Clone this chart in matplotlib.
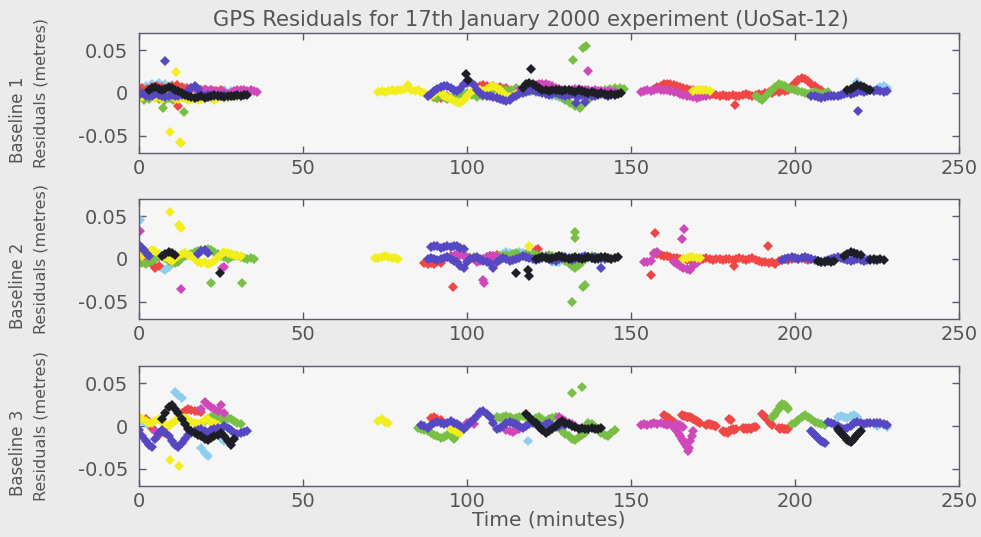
import matplotlib
matplotlib.use("Agg")
import matplotlib.pyplot as plt
import numpy as np

# ---------------- DATA (time in minutes, residuals in millimetres) ----------------
TITLE = "GPS Residuals for 17th January 2000 experiment (UoSat-12)"
PANEL_NAMES = ["Baseline 1", "Baseline 2", "Baseline 3"]
Y_LABEL = "Residuals (metres)"
X_LABEL = "Time (minutes)"
X_TICKS = [0, 50, 100, 150, 200, 250]
Y_TICKS = [-0.05, 0, 0.05]
Y_TICK_LABELS = ["-0.05", "0", "0.05"]

# ---- Baseline 1 ----
B1_YELLOW_T = [0, 1, 2, 3, 4, 5, 6, 7, 8, 9, 10, 11, 12, 13, 14, 15, 16, 17, 18, 19, 20, 21, 22, 23, 24, 25, 26, 27,
               9.5, 11.3, 12.5, 12.9,
               73, 74, 75, 76, 77, 78, 79, 80, 81, 82, 83, 84,
               85, 86, 87, 88, 89, 90, 91, 92, 93, 94, 95, 96, 97, 98, 99, 100, 101, 102, 103, 104, 105, 106,
               107, 108, 109, 110, 111, 112, 113, 114, 115,
               169, 170, 171, 172, 173, 174]
B1_YELLOW_R = [-3, -5, -4, -2, -4, -6, -5, -7, -5, -3, -4, -6, -7, -5, -6, -8, -7, -6, -8, -7, -5, -4, -6, -8, -6, -4, -5, -4,
               -46, 25, -57, -58,
               1, 2, 1, 2, 3, 2, 3, 4, 5, 9, 3, 2,
               3, 1, 0, -2, -3, -1, 2, 0, -3, -5, -7, -9, -11, -12, -8, -4, 0, 3, 5, 4, 2, 5,
               7, 8, 6, 3, 0, -3, -5, -3, -1,
               2, 3, 4, 4, 3, 2]
B1_GREEN_T = [0, 1.5, 3, 4.5, 6, 7.5, 9, 10.5, 12, 13.5, 15, 16.5, 18, 19.5, 21, 22.5, 24, 25.5, 27, 28.5, 30, 31.5,
              7.3, 13.6,
              88, 89.5, 91, 92.5, 94, 95.5, 97, 98.5, 100, 101.5, 103, 104.5, 106, 107.5, 109, 110.5, 112, 113.5,
              115, 116.5, 118, 119.5, 121, 122.5, 124, 125.5, 127, 128.5, 130, 131.5, 133, 134.5, 136, 137.5,
              139, 140.5, 142, 143.5, 145, 146.5, 148,
              132.4, 135.5, 136.2,
              188, 189, 190, 191, 192, 193, 194, 195, 196, 197, 198, 199, 200, 201, 202, 203, 204, 205, 206,
              207, 208, 209, 210]
B1_GREEN_R = [-6, -8, -7, -5, -7, -9, -6, -8, -7, -5, -4, -6, -7, -5, -3, -4, -2, -3, -5, -4, -3, -2,
              -17, -22,
              -3, -5, -6, -4, -7, -6, -3, -1, 0, -2, -5, -3, 1, 3, 4, 5, 3, 4,
              6, 5, 3, 2, 1, 3, 2, 0, -2, -4, -8, -12, -15, -17, -12, -6,
              -2, 2, 4, 5, 6, 6, 5,
              39, 52, 55,
              -3, -6, -8, -5, 0, 4, 7, 10, 9, 8, 6, 5, 3, 2, 1, 0, -1, 0, 1,
              0, -1, 0, 1]
B1_RED_T = [1, 2.5, 4, 5.5, 7, 8.5, 10, 11.5, 13, 14.5, 16, 17.5, 19, 20.5, 22, 23.5, 25, 12,
            90, 91, 92, 93, 94, 103, 104, 105, 106, 107, 108, 109, 110, 111, 112, 120, 121, 122, 123, 124,
            157, 158, 159, 160, 161, 162, 163, 164, 165, 166,
            167, 168, 169, 170, 171, 172, 173, 174, 175, 176,
            177, 178, 179, 180, 181, 182, 183, 184, 185, 186,
            187, 188, 189, 190, 191, 192, 193, 194, 195, 196,
            197, 198, 199, 200, 201, 202, 203, 204, 205, 206, 207, 208, 181.7]
B1_RED_R = [6, 5, 7, 8, 7, 6, 8, 9, 7, 6, 5, 6, 4, 3, 4, 2, 3, -15,
            -5, -6, -6, -5, -4, 6, 8, 9, 8, 7, 8, 6, 7, 5, 6, 4, 5, 3, 2, 3,
            5, 7, 8, 10, 11, 10, 9, 8, 7, 6,
            5, 4, 3, 2, 1, 0, -1, -2, -1, -2,
            -3, -2, -4, -3, -2, -3, -4, -2, -1, -2,
            -3, -2, -1, -2, 0, 1, 0, 2, 1, 3,
            2, 4, 8, 12, 15, 17, 16, 14, 11, 8, 5, 3, -14]
B1_CYAN_T = [0, 2, 4, 6, 8, 10, 12, 14, 16, 18, 20, 22, 24, 26, 28, 30,
             105, 106, 110, 111, 126, 127, 128, 129, 130, 131,
             219, 225, 226, 227, 228]
B1_CYAN_R = [6, 8, 10, 12, 11, 9, 7, 6, 5, 4, 5, 3, 2, 4, 2, 1,
             -2, -1, 3, 2, -3, -4, -5, -6, -4, -3,
             13, 5, 7, 8, 6]
B1_MAGENTA_T = [16, 17, 18, 19, 20, 21, 22, 23, 24, 25, 26, 27, 28, 29, 30, 31, 32, 33, 34, 35, 36,
                116, 117, 118, 119, 120, 121, 122, 123, 124, 125, 126, 127, 128, 129, 130, 131, 132, 133, 134,
                135, 136, 137, 138, 139, 140, 141, 142, 143, 144, 145, 136.8,
                153, 154, 155, 156, 157, 158, 159, 160, 161, 162, 163, 164,
                165, 166, 167, 168, 169, 170, 171, 172, 173]
B1_MAGENTA_R = [6, 5, 4, 4, 3, 2, 3, 2, 1, 0, 1, -1, 0, 2, 3, 4, 3, 2, 3, 2, 1,
                3, 4, 5, 6, 8, 9, 10, 11, 10, 9, 8, 6, 5, 4, 4, 3, 4, 5, 5,
                4, 3, 3, 2, 3, 2, 2, 1, 2, 1, 1, 26,
                1, 2, 3, 2, 4, 5, 4, 3, 3, 2, 1, 1,
                -1, -2, -3, -4, -5, -6, -5, -4, -3]
B1_BLUE_T = [0, 1, 2, 3, 4, 5, 6, 7, 8, 9, 10, 11, 12, 13, 14, 15, 16, 17, 18, 19, 20, 21, 22, 23, 24, 25, 26, 8,
             88, 89, 90, 91, 92, 93, 94, 95, 96, 97, 98, 99, 100, 101, 102, 103, 104, 105, 106, 107,
             108, 109, 110, 111, 112, 113, 114, 115, 116, 117, 118, 119, 120, 121, 122, 123, 124, 125, 126, 127,
             128, 129, 130, 131, 132, 133, 134, 135, 136, 137, 138, 139, 140, 141, 142, 143, 144, 145,
             133.3, 136,
             205, 206, 207, 208, 209, 210, 211, 212, 213, 214, 215, 216, 217, 218, 219, 220, 221, 222, 223,
             224, 225, 226, 227, 228, 219.2]
B1_BLUE_R = [-2, 0, -3, -4, -3, -1, -2, -4, -5, -3, -2, -4, -3, -2, -1, 2, 6, 8, 5, -1, -3, -2, -3, -4, -2, -3, -2, 37,
             -3, -1, 2, 5, 7, 8, 8, 6, 4, 2, 5, 10, 12, 13, 9, 4, 0, -2, -3, -4,
             -5, -6, -7, -8, -9, -8, -5, -3, -1, 0, 1, 2, 3, 2, 1, 0, -1, -2, -1, 0,
             -1, -2, -3, -2, -1, -2, -3, -2, -1, -2, -3, -3, -2, -1, -2, -3, -2, -1,
             -12, -11,
             -3, -4, -5, -6, -5, -4, -3, -4, -3, -2, -1, 0, -1, 0, 1, 2, 1, 2, 3,
             2, 3, 2, 1, 2, -21]
B1_BLACK_T = [3, 4, 5, 6, 7, 8, 9, 10, 11, 12, 13, 14, 15, 16, 17, 18, 19, 20, 21, 22, 23, 24, 25, 26, 27, 28,
              29, 30, 31, 32, 33,
              99.7, 100.3, 119.6,
              117, 118, 119, 120, 121, 122, 123, 124, 125, 126, 127, 128, 129, 130, 131, 132, 133, 134, 135,
              136, 137, 138, 139, 140, 141, 142, 143, 144, 145, 146, 147,
              216, 217, 218, 219, 220, 221, 222, 223]
B1_BLACK_R = [4, 6, 7, 5, 3, 5, 7, 6, 4, 2, 0, -2, -4, -5, -6, -5, -4, -6, -5, -3, -2, -3, -4, -5, -4, -3,
              -3, -2, -3, -2, -2,
              22, 15, 28,
              6, 10, 12, 11, 8, 6, 4, 3, 2, 3, 4, 3, 2, 3, 4, 2, 1, 3, 2,
              1, 0, 1, 0, -1, 0, -1, -2, -1, -2, -1, 0,
              3, 5, 7, 9, 8, 7, 5, 4]

# ---- Baseline 2 ----
B2_YELLOW_T = [0, 1, 2, 3, 4, 5, 6, 7, 8, 9, 10, 11, 12, 13, 14, 15, 16, 17, 18, 19, 20, 21, 22, 23, 24, 25,
               26, 27, 28, 29, 30, 31,
               9.5, 12.2, 12.8,
               72, 73, 74, 75, 76, 77, 78, 79, 98, 119,
               166, 167, 168, 169, 170, 171]
B2_YELLOW_R = [5, 3, 6, 8, 10, 9, 6, 4, 2, 0, -2, 1, 4, 6, 7, 5, 3, 0, -3, -5, -4, -6, -5, -2, 2, 5,
               8, 7, 6, 5, 4, 3,
               55, 40, 36,
               1, 1, 2, 3, 2, 1, 1, 0, 14, 15,
               0, 1, 2, 2, 1, 1]
B2_GREEN_T = [0, 1, 2, 3, 4, 5, 6, 7, 8, 9, 10, 11, 12, 13, 14, 15, 16, 17, 18, 19, 20, 21, 22, 23, 24, 25,
              26, 27, 28, 29, 30, 31, 32, 33, 34, 35,
              21.9, 31.4,
              100, 101, 102, 103, 104, 105, 106, 107, 108, 109,
              110, 111, 112, 113, 114, 115, 116, 117, 118, 119,
              120, 121, 122, 123, 124, 125, 126, 127, 128, 129,
              130, 131, 132, 133, 134, 135, 136, 137, 138, 139,
              140, 141, 142, 143, 144,
              132.8, 132.8, 135.3, 135.9, 131.9]
B2_GREEN_R = [-3, -5, -6, -4, -2, 0, 2, 4, 1, -2, -4, -5, -3, 1, 3, 5, 6, 8, 9, 10, 11, 12, 10, 8, 6, 4,
              2, 0, 2, 3, 4, 2, 1, 0, 1, 0,
              -28, -28,
              0, 1, 2, 1, -1, 0, 2, 3, 1, 2,
              3, 4, 5, 4, 6, 7, 5, 4, 6, 5,
              6, 5, 4, 3, 4, 5, 3, 2, 4, 3,
              -2, -5, -8, -10, -7, -3, 0, 2, 3, 2,
              1, 0, 2, 1, 0,
              32, 24, -33, -30, -50]
B2_RED_T = [0, 1, 2, 3, 4, 5, 6,
            87, 88, 89, 90, 91, 92, 95.8, 107, 108, 109, 114, 121, 121.5,
            157, 158, 159, 160, 161, 162, 163, 164, 165, 166,
            167, 168, 169, 170, 171, 172, 173, 174, 175, 176,
            177, 178, 179, 180, 181, 182, 183, 184, 185, 186,
            187, 188, 189, 190, 191, 192, 193, 194, 195, 196,
            197, 198, 199, 200, 201, 202, 203, 204, 205,
            157.4, 156.1, 181.5, 191.7]
B2_RED_R = [6, 4, 2, -2, -6, -11, -8,
            -5, -6, -5, -6, -4, -5, -33, 3, 4, 5, 3, 11, 12,
            7, 6, 5, 4, 3, 2, 1, 1, 0, 0,
            -1, -1, 0, 0, -1, 0, 1, 0, -1, 0,
            0, -1, 0, 0, -1, 0, 1, 0, -1, 0,
            1, -1, -2, -3, -4, -5, -3, -6, -2, -1,
            0, -1, 0, 1, 0, 1, 0, -1, 0,
            30, -19, -8, 15]
B2_CYAN_T = [0.2, 7, 8, 9,
             110, 111, 112, 113, 114, 115, 116, 117, 118, 119, 120, 121, 122, 123, 124,
             126, 127, 128, 130]
B2_CYAN_R = [45, -10, -13, -9,
             4, 6, 8, 7, 5, 6, 8, 7, 5, 4, 3, 2, 3, 4, 2,
             -3, -4, -3, -2]
B2_MAGENTA_T = [0.4, 12.8, 25.4, 25.8,
                94, 95, 96, 97, 98, 99, 100, 101, 102, 103, 104, 105, 106, 107, 108, 109, 110,
                105, 105.2,
                154, 155, 156, 157, 158,
                163, 164, 165, 166, 167, 168, 169, 170, 166.2, 165.6]
B2_MAGENTA_R = [33, -35, -10, -9,
                2, 3, 4, 6, 5, 3, 2, 1, 0, -3, -2, 0, 2, 4, 3, 2, 1,
                -24, -28,
                -4, -3, -2, 6, 8,
                -4, -6, -8, -10, -12, -13, -8, -5, 35, 23]
B2_BLUE_T = [0, 0.8, 1.6, 2.4, 3.2, 18, 19, 20, 21,
             89, 90, 91, 92, 93, 94, 95, 96, 97, 98, 99,
             88, 89, 90, 91, 92, 93, 94, 95, 96, 97,
             98, 99, 100, 101, 102, 103, 104, 105, 106, 107,
             108, 109, 110, 111, 112, 113, 114, 115, 116, 117,
             118, 119, 120, 121, 122, 123, 124, 125, 126, 127,
             128, 129, 130, 131, 132, 133, 134, 135, 136, 137,
             138, 139, 140, 141, 142, 140.9,
             196, 197, 198, 199, 200, 201, 202, 203, 204, 205, 206, 207, 208, 209, 210,
             211, 212, 213, 214, 215, 216, 217, 218, 219, 220, 221, 222, 223, 224]
B2_BLUE_R = [16, 13, 10, 6, 3, 6, 9, 10, 7,
             14, 15, 15, 13, 14, 15, 14, 15, 15, 13, 12,
             0, 1, 0, -1, 0, 1, 2, 0, -2, -4,
             -8, -10, -3, 0, 1, 2, 0, -2, -3, -5,
             -10, -4, -1, 1, 0, -2, -1, 0, 1, 3,
             2, 1, 0, -1, 0, 1, 2, 1, -1, -2,
             0, 1, 2, 1, -1, 0, 1, 2, 3, 2,
             1, 2, 0, 1, 0, -11,
             -1, 0, 1, 2, 1, 0, 1, 2, 1, 0, -1, -2, -3, -2, -1,
             0, 1, 2, 1, 0, -1, -2, -1, 0, -1, -2, -1, 0, -1]
B2_BLACK_T = [7, 8, 9, 10, 11, 24.8,
              115, 118.5, 118.8,
              121, 122, 123, 124, 125, 126, 127, 128, 129, 130, 131, 132, 133, 134, 135, 136, 137, 138, 139,
              140, 141, 142, 143, 144, 145, 146,
              207, 208, 209, 210, 211, 212, 215, 216, 217, 218, 219, 220, 223, 224, 225, 226, 227]
B2_BLACK_R = [4, 6, 8, 7, 5, -16,
              -16, -13, -20,
              0, 1, 2, 1, 0, 1, 2, 3, 2, 1, 0, 1, 2, 1, 0, 1, 2, 1, 0,
              1, 2, 2, 1, 0, 1, 2,
              -2, -3, -3, -2, -3, -2, 4, 6, 8, 7, 6, 5, -1, 0, -1, 0, -1]

# ---- Baseline 3 ----
B3_YELLOW_T = [0, 1, 2, 3, 4, 5, 6, 7, 8, 9, 10, 11, 12, 13, 14, 15, 16, 17, 18, 19, 20, 21, 22, 23, 24,
               9.6, 12.3, 73, 74, 75, 76, 95, 96, 97, 98]
B3_YELLOW_R = [10, 8, 6, 4, 3, 6, 8, 5, 2, 0, 3, 6, 8, 10, 9, 7, 5, 3, 2, 4, 7, 8, 5, 3, 1,
               -40, -47, 6, 8, 5, 3, -4, -5, -7, -8]
B3_GREEN_T = [20, 21, 22, 23, 24, 25, 26, 27, 28, 29, 30, 31,
              85, 86, 87, 88, 89, 90, 91, 92, 93, 94, 95, 96, 97, 98,
              108, 109, 110, 111, 112, 113, 114, 115, 116, 117, 118, 119, 120, 121, 122, 123, 124, 125, 126,
              127, 128,
              129, 130, 131, 132, 133, 134, 135, 136, 131.9, 135.2,
              137, 138, 139, 140, 141, 142, 143, 144, 145,
              193, 193.5, 194, 194.5, 195, 195.5, 196, 196.5, 197, 197.5, 198,
              199, 200, 201, 202, 203, 204, 205, 206, 207, 208, 209]
B3_GREEN_R = [6, 8, 10, 12, 10, 8, 6, 9, 8, 6, 4, 2,
              -2, -3, -5, -6, -8, -10, -12, -14, -13, -10, -12, -15, -10, -6,
              8, 10, 9, 11, 12, 10, 8, 9, 11, 12, 10, 8, 7, 9, 10, 8, 6, 8, 9,
              10, 8,
              -6, -9, -12, -15, -16, -13, -10, -8, 38, 46,
              4, 2, -1, -4, -8, -10, -12, -8, -5,
              10, 12, 14, 17, 20, 23, 26, 25, 24, 22, 20,
              2, 4, 7, 10, 13, 11, 8, 5, 4, 2, 1]
B3_RED_T = [2, 3, 4, 5, 6, 13, 14, 15, 16, 17, 18, 19, 89, 90, 91, 92,
            160, 160.5, 161, 161.5, 162, 162.5, 163,
            165.5, 166, 166.5, 167, 167.5, 168, 168.5, 169, 169.5, 170, 170.5, 171,
            173, 173.5, 174, 174.5, 175, 175.5, 176, 180, 180.5,
            178, 178.5, 179, 179.5, 180, 180.5, 181, 181.5, 182,
            184, 184.5, 185, 185.5, 186, 186.5, 187, 187.5, 188,
            190, 190.5, 191, 191.5, 192, 192.5, 193,
            195, 195.5, 196, 196.5, 197, 197.5, 198]
B3_RED_R = [8, 5, -2, -6, -10, 15, 18, 20, 19, 18, 17, 16, 9, 10, 8, 7,
            13, 12, 10, 9, 7, 6, 5,
            13, 12, 12, 11, 10, 10, 9, 8, 7, 6, 5, 4,
            1, 2, 2, 1, 1, 0, 0, 8, 7,
            -6, -7, -7, -8, -6, -5, -4, -5, -4,
            -2, -3, -2, -3, -2, -3, -2, -1, -1,
            14, 12, 10, 8, 6, 3, 1,
            -2, -3, -2, -3, -4, -3, -3]
B3_CYAN_T = [0, 1, 2, 3, 4, 11, 12, 13, 19, 20, 21, 25, 26, 27, 118.7,
             213, 214, 215, 216, 217, 218, 219, 225, 226, 227, 228]
B3_CYAN_R = [8, 6, 4, 2, -3, 40, 36, 33, -26, -31, -35, -14, -17, -16, -17,
             10, 12, 11, 9, 12, 13, 11, 0, 2, 1, -1]
B3_MAGENTA_T = [5, 6, 7, 8, 19, 20, 21, 22, 23, 24, 25, 26,
                100, 101, 102, 112, 113, 114, 115, 116, 128, 129, 130, 131, 132, 133,
                153, 154, 155, 156, 157, 158, 159, 160, 161, 162,
                163, 163.5, 164, 164.5, 165, 165.5, 166, 166.5, 167, 167.3, 167.7, 168, 168.5, 169,
                164, 165, 166]
B3_MAGENTA_R = [-6, -8, -6, -4, 20, 28, 25, 22, 20, 18, 24, 15,
                3, 5, 2, -5, -6, -7, -5, -4, 10, 8, 6, 4, 2, 0,
                1, 2, 1, 2, 3, 2, 3, 2, 1, 2,
                0, -3, -6, -9, -12, -15, -18, -21, -24, -29, -26, -18, -12, -6,
                2, 1, -1]
B3_BLUE_T = [0, 1, 2, 3, 4, 5, 6, 7, 8, 9, 10, 11, 12, 13, 14, 15, 16, 17, 18, 19, 20, 21, 22, 23, 24, 25,
             26, 27, 28, 29, 30, 31, 32, 33,
             86, 87, 88, 89, 90, 91, 92, 93, 94, 95,
             96, 97, 98, 99, 100, 101, 102, 103, 104, 105,
             106, 107, 108, 109, 110, 111, 112, 113, 114, 115,
             116, 117, 118, 119, 120, 121, 122, 123, 124, 125,
             126, 127, 128, 129, 130,
             205, 205.5, 206, 206.5, 207, 207.5, 208, 208.5, 209,
             210, 211, 212, 213, 214, 215, 216, 217, 218, 219, 220, 221, 222, 223, 224, 225, 226, 227, 228]
B3_BLUE_R = [-5, -12, -18, -22, -25, -15, -8, -5, -8, -12, -18, -22, -25, -20, -15, -10, -8, -6, -5, -4, -6, -8,
             -5, -3, -2, -3, 0, -2, -5, -8, -9, -8, -7, -6,
             1, 0, -2, 1, 3, 5, 4, 2, 3, 6,
             4, 2, 0, -3, 0, 4, 8, 12, 16, 18,
             14, 10, 4, -4, -2, 0, 3, 5, 4, 2,
             0, -2, 0, 2, 4, 3, 1, -1, 2, 3,
             1, -1, 0, 2, 1,
             -6, -8, -10, -12, -14, -16, -18, -19, -20,
             5, 4, 2, 0, -2, -4, -2, 0, 3, 5, 4, 2, 3, 4, 3, 4, 3, 2, 1]
B3_BLACK_T = [7, 8, 9, 10, 11, 12, 13, 14, 15, 16, 17, 18, 19, 20, 21, 22, 23, 24, 25, 26, 27, 28, 29,
              118, 119, 120, 121, 122, 123, 124, 125, 126, 127, 128, 129, 130, 131, 132, 133, 134, 135,
              136, 137, 138, 139, 140, 141,
              213, 213.5, 214, 214.5, 215, 215.5, 216, 216.5, 217, 217.5, 218, 218.5, 219, 219.5, 220]
B3_BLACK_R = [8, 15, 22, 25, 20, 15, 8, 2, -3, -6, -8, -10, -12, -15, -16, -14, -12, -10, -8, -12, -18, -22, -15,
              14, 10, 6, 3, -1, -5, -8, -6, -3, 0, 3, 6, 4, 2, 0, -1, -3, -2,
              -4, -3, -2, -4, -3, -2,
              -4, -6, -8, -10, -12, -14, -16, -18, -19, -17, -15, -12, -10, -8, -6]

COLORS = {
    "cyan": "#8fcdef",
    "red": "#ef4646",
    "green": "#79bf45",
    "magenta": "#cf48b9",
    "yellow": "#f2ee1e",
    "blue": "#5647c2",
    "black": "#1e1e26",
}

PANELS = [
    [("cyan", B1_CYAN_T, B1_CYAN_R), ("red", B1_RED_T, B1_RED_R), ("green", B1_GREEN_T, B1_GREEN_R),
     ("magenta", B1_MAGENTA_T, B1_MAGENTA_R), ("yellow", B1_YELLOW_T, B1_YELLOW_R),
     ("blue", B1_BLUE_T, B1_BLUE_R), ("black", B1_BLACK_T, B1_BLACK_R)],
    [("cyan", B2_CYAN_T, B2_CYAN_R), ("red", B2_RED_T, B2_RED_R), ("green", B2_GREEN_T, B2_GREEN_R),
     ("magenta", B2_MAGENTA_T, B2_MAGENTA_R), ("yellow", B2_YELLOW_T, B2_YELLOW_R),
     ("blue", B2_BLUE_T, B2_BLUE_R), ("black", B2_BLACK_T, B2_BLACK_R)],
    [("cyan", B3_CYAN_T, B3_CYAN_R), ("red", B3_RED_T, B3_RED_R), ("green", B3_GREEN_T, B3_GREEN_R),
     ("magenta", B3_MAGENTA_T, B3_MAGENTA_R), ("yellow", B3_YELLOW_T, B3_YELLOW_R),
     ("blue", B3_BLUE_T, B3_BLUE_R), ("black", B3_BLACK_T, B3_BLACK_R)],
]

# ---------------- FIGURE ----------------
plt.rcParams['font.family'] = ['DejaVu Sans']
TEXT_C = "#555555"
SPINE_C = "#5a5a70"

W, H = 981, 537
fig = plt.figure(figsize=(W / 100, H / 100), dpi=100, facecolor="#ebebeb")

ax_px = [(139, 33), (139, 199), (139, 366)]  # left, top in pixels
ax_w, ax_h = 820, 120

axes = []
for i, (lx, ty) in enumerate(ax_px):
    ax = fig.add_axes([lx / W, (H - ty - ax_h) / H, ax_w / W, ax_h / H])
    ax.set_facecolor("#f6f6f6")
    for color_name, t, r in PANELS[i]:
        ax.plot(np.array(t), np.array(r) / 1000.0, linestyle="none", marker="D",
                markersize=5.6, markeredgewidth=0, color=COLORS[color_name])
    ax.set_xlim(0, 250)
    ax.set_ylim(-0.07, 0.07)
    ax.set_xticks(X_TICKS)
    ax.set_xticklabels([str(v) for v in X_TICKS])
    ax.set_yticks(Y_TICKS)
    ax.set_yticklabels(Y_TICK_LABELS)
    ax.tick_params(direction="in", length=5, width=1, color=SPINE_C,
                   top=True, right=True, labelsize=14, labelcolor=TEXT_C)
    ax.tick_params(axis="x", pad=4)
    ax.tick_params(axis="y", pad=8)
    for s in ax.spines.values():
        s.set_color(SPINE_C)
        s.set_linewidth(1.0)
    cy_px = ty + ax_h / 2
    fig.text(18 / W, 1 - (cy_px + 27) / H, PANEL_NAMES[i], rotation=90, ha="center", va="center",
             fontsize=12, color=TEXT_C)
    fig.text(41 / W, 1 - cy_px / H, Y_LABEL, rotation=90, ha="center", va="center",
             fontsize=11.5, color=TEXT_C)
    axes.append(ax)

axes[0].set_title(TITLE, fontsize=15.2, color=TEXT_C, pad=5, x=(531 - 139) / 820)
axes[2].set_xlabel(X_LABEL, fontsize=14.5, color=TEXT_C, labelpad=0)

fig.savefig("out.png", dpi=100, facecolor=fig.get_facecolor())
